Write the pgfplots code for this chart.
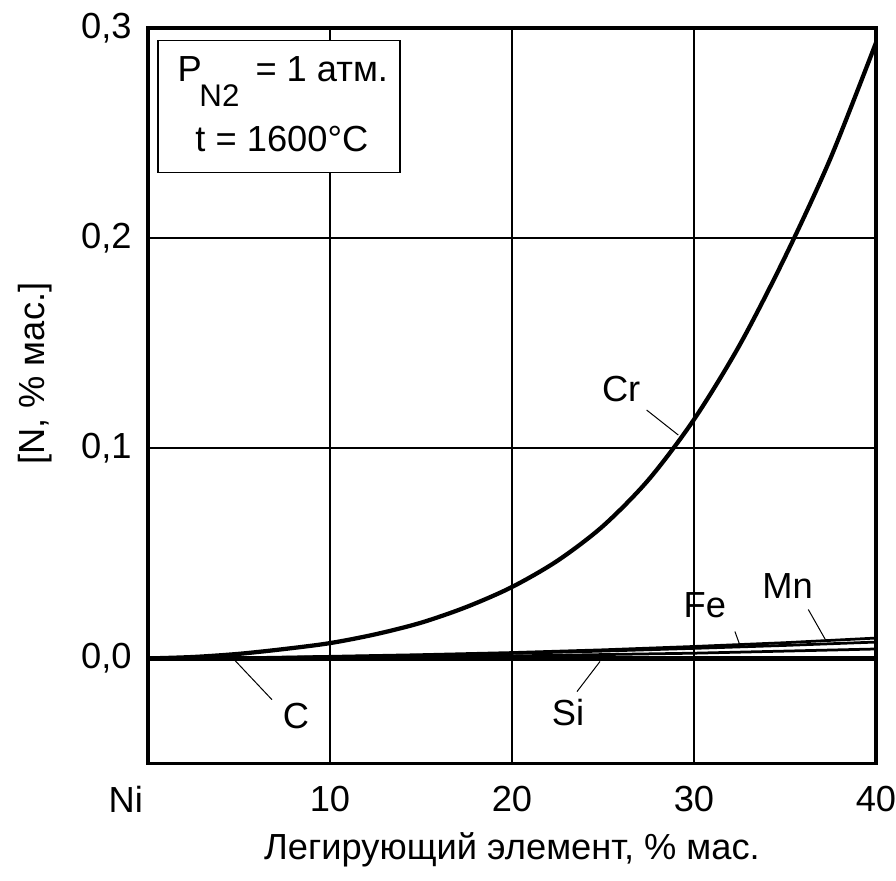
\documentclass[border=0pt]{standalone}
\usepackage{pgfplots}
\pgfplotsset{compat=1.18}
\usepackage{fontspec}
\setmainfont{Liberation Sans}

\pgfplotstableread{
x      y
0      0
2.5    0.0007
5      0.0022
7.5    0.0045
10     0.0073
12.5   0.0115
15     0.0170
17.5   0.0245
20     0.0340
22.5   0.0465
25     0.0630
27.5   0.0850
30     0.1137
32.5   0.1490
35     0.1910
37.5   0.2380
40     0.2930
}\crdata

\pgfplotstableread{
x    y
0    0
5    0.0003
10   0.0010
15   0.0018
20   0.0028
25   0.0041
30   0.0057
35   0.0075
40   0.0097
}\mndata

\pgfplotstableread{
x    y
0    0
5    0.0002
10   0.0008
15   0.0015
20   0.0024
25   0.0035
30   0.0048
35   0.0062
40   0.0078
}\fedata

\pgfplotstableread{
x    y
0    0
10   0.0004
20   0.0012
30   0.0025
40   0.0045
}\sidata

\pgfplotstableread{
x    y
0    0
40   0
}\cdata

\newcommand\lbl{\fontsize{14.5}{17}\selectfont}

\begin{document}
\begin{tikzpicture}
\begin{axis}[
  scale only axis,
  width=291pt, height=294pt,
  xmin=0, xmax=40, ymin=-0.05, ymax=0.3,
  xtick={0,10,20,30,40},
  xticklabels={\llap{Ni\hspace{2pt}},10,20,30,40},
  ytick={0,0.1,0.2,0.3},
  /pgf/number format/assume math mode=true,
  yticklabel style={/pgf/number format/use comma, /pgf/number format/fixed,
    /pgf/number format/fixed zerofill, /pgf/number format/precision=1, xshift=-3pt},
  ticklabel style={font=\lbl},
  xticklabel style={yshift=-5.5pt},
  major tick length=0pt,
  grid=major,
  grid style={black, line width=0.8pt},
  axis line style={line width=1.4pt},
  xlabel={Легирующий элемент, \% мас.},
  ylabel={[N, \% мас.]},
  label style={font=\lbl},
  xlabel style={at={(axis description cs:0.5,-0.117)}, anchor=center},
  ylabel style={at={(axis description cs:-0.155,0.53)}, anchor=center},
  clip=false,
]
\addplot[black, line width=2.2pt] table {\cdata};
\addplot[black, line width=1.1pt] table {\sidata};
\addplot[black, line width=1.1pt] table {\fedata};
\addplot[black, line width=1.1pt] table {\mndata};
\addplot[black, line width=1.7pt, smooth] table {\crdata};

% annotation box
\draw[fill=white, line width=0.5pt] (axis cs:0.55,0.294) rectangle (axis cs:13.85,0.2313);
\node[anchor=base west, inner sep=0pt, font=\lbl] at (axis cs:1.6,0.2744) {P};
\node[anchor=base west, inner sep=0pt, font=\fontsize{12.5}{14}\selectfont] at (axis cs:2.8,0.2625) {N2};
\node[anchor=base west, inner sep=0pt, font=\lbl] at (axis cs:5.88,0.2744) {= 1 атм.};
\node[anchor=base west, inner sep=0pt, font=\lbl] at (axis cs:2.58,0.2414) {t = 1600°C};

% curve labels and leaders
\node[font=\lbl] at (axis cs:26.0,0.1283) {Cr};
\draw[line width=0.4pt] (axis cs:27.4,0.1182) -- (axis cs:29.14,0.1063);
\node[font=\lbl] at (axis cs:30.6,0.0254) {Fe};
\draw[line width=0.4pt] (axis cs:32.25,0.0128) -- (axis cs:32.53,0.0061);
\node[font=\lbl] at (axis cs:35.14,0.0345) {Mn};
\draw[line width=0.4pt] (axis cs:36.28,0.0233) -- (axis cs:37.25,0.0085);
\node[font=\lbl] at (axis cs:8.13,-0.0273) {C};
\draw[line width=0.4pt] (axis cs:4.62,0.0005) -- (axis cs:6.81,-0.0196);
\node[font=\lbl] at (axis cs:23.08,-0.0259) {Si};
\draw[line width=0.4pt] (axis cs:24.84,-0.0014) -- (axis cs:23.57,-0.0158);

\coordinate (bbsw) at (axis description cs:-0.2033,-0.1594);
\coordinate (bbne) at (axis description cs:1.0275,1.0381);
\end{axis}
\pgfresetboundingbox
\path (bbsw) rectangle (bbne);
\end{tikzpicture}
\end{document}
